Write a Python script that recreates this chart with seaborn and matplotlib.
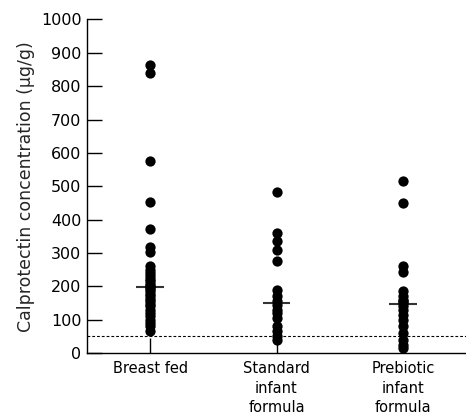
import numpy as np
import pandas as pd
import matplotlib
matplotlib.use("Agg")
import matplotlib.pyplot as plt
import seaborn as sns

# ---------------- data ----------------
groups = ["Breast fed", "Standard\ninfant\nformula", "Prebiotic\ninfant\nformula"]

breast_fed = [865, 840, 576, 452, 372, 319, 302, 262, 250, 240, 230, 222,
              215, 208, 202, 198, 192, 185, 178, 170, 162, 155, 148, 140,
              130, 120, 110, 100, 90, 80, 66]
standard_formula = [482, 359, 337, 309, 277, 188, 172, 155, 143, 130, 120,
                    105, 80, 65, 50, 40]
prebiotic_formula = [515, 450, 262, 243, 185, 172, 160, 155, 150, 142, 130,
                     115, 100, 80, 60, 40, 25, 15]

cutoff = 50

df = pd.DataFrame({
    "group": [groups[0]] * len(breast_fed) + [groups[1]] * len(standard_formula)
             + [groups[2]] * len(prebiotic_formula),
    "value": breast_fed + standard_formula + prebiotic_formula,
})

# ---------------- plot ----------------
sns.set_style("ticks")
plt.rcParams["font.family"] = ["DejaVu Sans"]

fig = plt.figure(figsize=(4.66, 4.19), dpi=100)
ax = fig.add_axes([87 / 466, 66 / 419, 379 / 466, 333.5 / 419])

# median bars
sns.boxplot(data=df, x="group", y="value", order=groups, ax=ax,
            showbox=False, showcaps=False, showfliers=False,
            whiskerprops={"visible": False}, width=0.22,
            medianprops={"color": "#333333", "linewidth": 1.5})

sns.stripplot(data=df, x="group", y="value", order=groups, ax=ax,
              jitter=False, color="black", size=7.4, linewidth=0,
              clip_on=False, zorder=3)

ax.axhline(cutoff, color="black", linestyle=(0, (2.5, 1.8)), linewidth=0.8,
           zorder=1)

ax.set_xlim(-0.5, 2.5)
ax.set_ylim(0, 1000)
ax.set_yticks(np.arange(0, 1001, 100))
ax.set_xlabel("")
ax.set_ylabel("Calprotectin concentration (\u03bcg/g)", fontsize=12.5, labelpad=4)

ax.tick_params(axis="y", direction="in", length=11, width=1, labelsize=11.5,
               pad=4, colors="black")
ax.tick_params(axis="x", direction="in", length=11, width=1, labelsize=10.5,
               pad=6, colors="black")
for lab in ax.get_xticklabels():
    lab.set_linespacing(1.35)

sns.despine(ax=ax)
for side in ["left", "bottom"]:
    ax.spines[side].set_linewidth(1.0)
    ax.spines[side].set_color("black")

fig.savefig("out.png", dpi=100)
